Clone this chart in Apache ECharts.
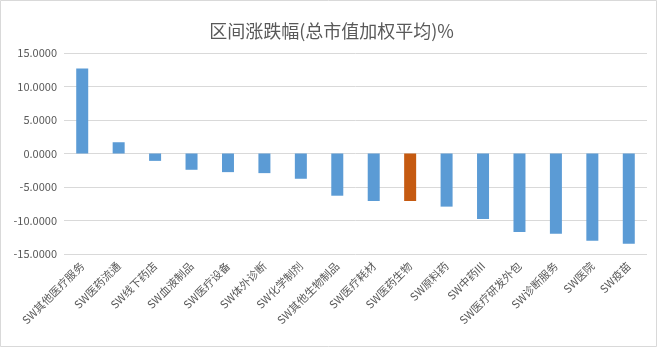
<!DOCTYPE html>
<html>
<head>
<meta charset="utf-8">
<script src="https://cdn.jsdelivr.net/npm/echarts@6/dist/echarts.min.js"></script>
<style>
  html, body { margin: 0; padding: 0; background: #ffffff; }
  #chart { width: 663px; height: 348px; }
</style>
</head>
<body>
<div id="chart"></div>
<script>
// Industry names (Shenwan sub-industries)
const categories = [
  'SW其他医疗服务', 'SW医药流通', 'SW线下药店', 'SW血液制品', 'SW医疗设备',
  'SW体外诊断', 'SW化学制剂', 'SW其他生物制品', 'SW医疗耗材', 'SW医药生物',
  'SW原料药', 'SW中药III', 'SW医疗研发外包', 'SW诊断服务', 'SW医院', 'SW疫苗'
];
// Period change, market-cap weighted average (%)
const values = [
  12.67, 1.68, -1.10, -2.43, -2.78,
  -2.93, -3.77, -6.30, -7.09, -7.09,
  -7.93, -9.76, -11.70, -11.99, -13.03, -13.48
];
// Y axis range and step
const yMin = -15;
const yMax = 15;
const yStep = 5;
// The benchmark (whole sector) bar gets its own colour
const benchmark = 'SW医药生物';

const BLUE = '#5b9bd5';
const ORANGE = '#c55a11';
const TEXT = '#595959';
const GRID = '#d9d9d9';
const FONT = '"Noto Sans CJK SC", "Noto Sans", sans-serif';

const chart = echarts.init(document.getElementById('chart'), null, { renderer: 'canvas' });

chart.setOption({
  animation: false,
  backgroundColor: '#ffffff',
  textStyle: { fontFamily: FONT },
  title: {
    text: '区间涨跌幅(总市值加权平均)%',
    left: 'center',
    top: 17,
    textStyle: { fontSize: 18, fontWeight: 'normal', color: TEXT, fontFamily: FONT }
  },
  grid: { left: 64, right: 16, top: 53, bottom: 94, containLabel: false },
  xAxis: {
    type: 'category',
    data: categories,
    position: 'bottom',
    axisLine: { show: false, onZero: false },
    axisTick: { show: false },
    axisLabel: {
      interval: 0,
      rotate: 45,
      margin: 10,
      fontSize: 11,
      color: TEXT,
      fontFamily: FONT
    }
  },
  yAxis: {
    type: 'value',
    min: yMin,
    max: yMax,
    interval: yStep,
    axisLine: { show: false },
    axisTick: { show: false },
    splitLine: { lineStyle: { color: GRID, width: 1 } },
    axisLabel: {
      fontSize: 11,
      color: TEXT,
      margin: 7,
      fontFamily: FONT,
      formatter: v => v.toFixed(4)
    }
  },
  series: [{
    type: 'bar',
    barWidth: 12,
    data: values.map((v, i) => ({
      value: v,
      itemStyle: { color: categories[i] === benchmark ? ORANGE : BLUE }
    }))
  }],
  graphic: [{
    type: 'rect',
    silent: true,
    shape: { x: 0.5, y: 0.5, width: 656, height: 346 },
    style: { fill: 'none', stroke: GRID, lineWidth: 1 }
  }]
});
</script>
</body>
</html>
